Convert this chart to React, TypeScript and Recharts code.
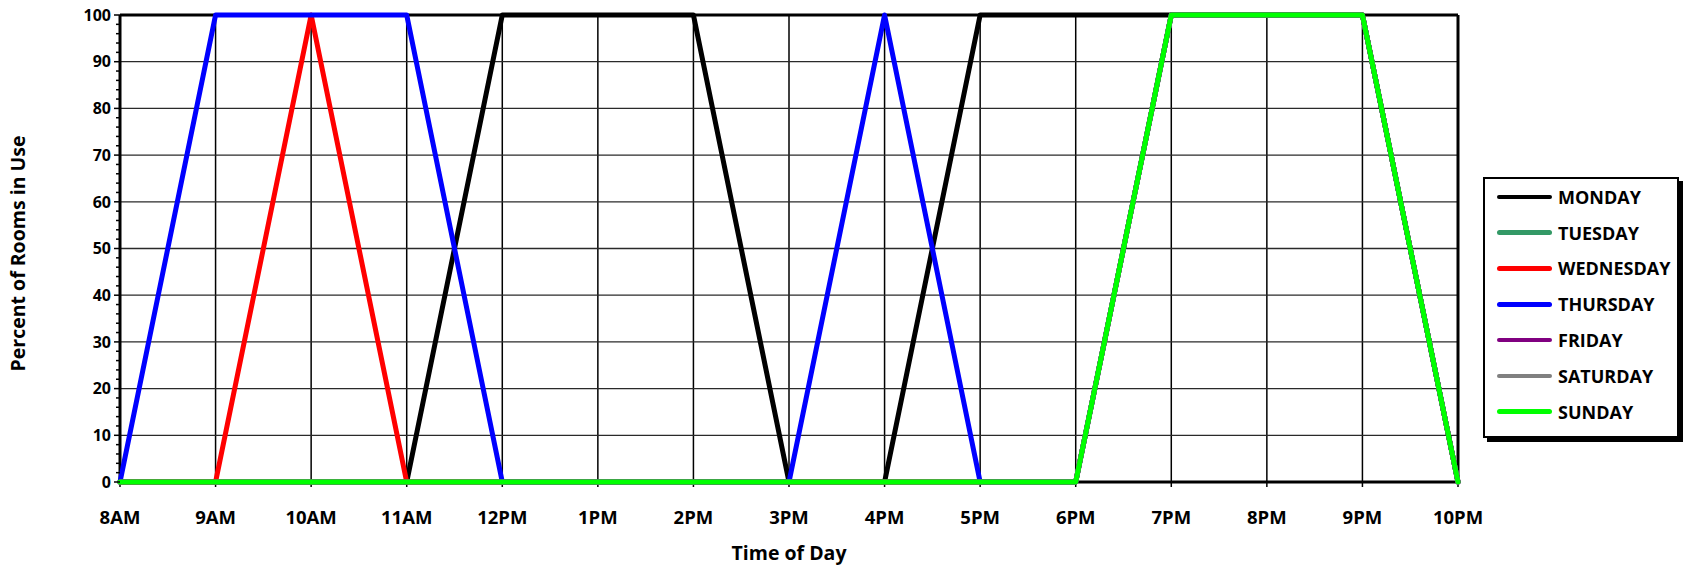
import {
  LineChart,
  Line,
  XAxis,
  YAxis,
  CartesianGrid,
  ReferenceLine,
  Label,
} from "recharts";

/* ── Data ─────────────────────────────────────────────── */

const TIMES = [
  "8AM", "9AM", "10AM", "11AM", "12PM", "1PM", "2PM", "3PM",
  "4PM", "5PM", "6PM", "7PM", "8PM", "9PM", "10PM",
];

const MONDAY = [0, 0, 0, 0, 100, 100, 100, 0, 0, 100, 100, 100, 100, 100, 0];
const TUESDAY = [0, 0, 0, 0, 0, 0, 0, 0, 0, 0, 0, 100, 100, 100, 0];
const WEDNESDAY = [0, 0, 100, 0, 0, 0, 0, 0, 0, 0, 0, 100, 100, 100, 0];
const THURSDAY = [0, 100, 100, 100, 0, 0, 0, 0, 100, 0, 0, 100, 100, 100, 0];
const FRIDAY = [0, 0, 0, 0, 0, 0, 0, 0, 0, 0, 0, 100, 100, 100, 0];
const SATURDAY = [0, 0, 0, 0, 0, 0, 0, 0, 0, 0, 0, 100, 100, 100, 0];
const SUNDAY = [0, 0, 0, 0, 0, 0, 0, 0, 0, 0, 0, 100, 100, 100, 0];

const Y_TICKS = [
  0, 2, 4, 6, 8, 10, 12, 14, 16, 18, 20, 22, 24, 26, 28, 30, 32, 34, 36, 38,
  40, 42, 44, 46, 48, 50, 52, 54, 56, 58, 60, 62, 64, 66, 68, 70, 72, 74, 76,
  78, 80, 82, 84, 86, 88, 90, 92, 94, 96, 98, 100,
];
const Y_GRID = [10, 20, 30, 40, 50, 60, 70, 80, 90];

const SERIES = [
  { key: "monday", name: "MONDAY", color: "#000000", values: MONDAY },
  { key: "tuesday", name: "TUESDAY", color: "#339966", values: TUESDAY },
  { key: "wednesday", name: "WEDNESDAY", color: "#FF0000", values: WEDNESDAY },
  { key: "thursday", name: "THURSDAY", color: "#0000FF", values: THURSDAY },
  { key: "friday", name: "FRIDAY", color: "#800080", values: FRIDAY },
  { key: "saturday", name: "SATURDAY", color: "#808080", values: SATURDAY },
  { key: "sunday", name: "SUNDAY", color: "#00FF00", values: SUNDAY },
];

const data = TIMES.map((time, i) => {
  const row: Record<string, string | number> = { time };
  for (const s of SERIES) row[s.key] = s.values[i];
  return row;
});

/* ── Styles ───────────────────────────────────────────── */

const FONT = "'Open Sans', 'DejaVu Sans', sans-serif";

const TICK_X = {
  fontSize: 18.5,
  fontWeight: 700,
  fill: "#000",
  fontFamily: FONT,
} as const;

const BORDER = { stroke: "#000", strokeWidth: 3 } as const;

/* ── Y tick with minor marks ──────────────────────────── */

function YTick({ x, y, payload }: any) {
  const v = payload.value as number;
  const major = v % 10 === 0;
  return (
    <g>
      <line
        x1={x - (major ? 6 : 4)}
        x2={x}
        y1={y}
        y2={y}
        stroke="#000"
        strokeWidth={1.5}
      />
      {major && (
        <text
          x={x - 9}
          y={y}
          dy="0.36em"
          textAnchor="end"
          fontSize={16}
          fontWeight={700}
          fontFamily={FONT}
          fill="#000"
        >
          {v}
        </text>
      )}
    </g>
  );
}

/* ── Legend ───────────────────────────────────────────── */

function RoomLegend() {
  return (
    <div
      style={{
        position: "absolute",
        left: 1483,
        top: 177,
        width: 196,
        height: 261,
        boxSizing: "border-box",
        border: "2px solid #000",
        boxShadow: "4px 4px 0 #000",
        background: "#fff",
        fontFamily: FONT,
      }}
    >
      {SERIES.map((s) => (
        <div
          key={s.key}
          style={{
            display: "flex",
            alignItems: "center",
            height: 35.8,
            paddingLeft: 12,
          }}
        >
          <div
            style={{
              width: 55,
              height: 4.5,
              borderRadius: 3,
              background: s.color,
            }}
          />
          <span
            style={{
              marginLeft: 6,
              fontSize: 18,
              fontWeight: 700,
              color: "#000",
              lineHeight: 1,
            }}
          >
            {s.name}
          </span>
        </div>
      ))}
    </div>
  );
}

/* ── Chart ────────────────────────────────────────────── */

export default function App() {
  return (
    <div style={{ position: "relative", width: 1685, height: 567, background: "#fff" }}>
      <style>{"body{margin:0}"}</style>
      <LineChart
        width={1685}
        height={567}
        data={data}
        margin={{ top: 14, right: 226, bottom: 0, left: 0 }}
      >
        <CartesianGrid horizontal={false} stroke="#000" strokeWidth={1.5} />
        {Y_GRID.map((v) => (
          <ReferenceLine
            key={v}
            y={v}
            stroke="#2a2a2a"
            strokeWidth={1.3}
            zIndex={-90}
          />
        ))}
        <XAxis
          dataKey="time"
          interval={0}
          height={85}
          tickSize={5}
          tickMargin={24}
          tick={TICK_X}
          axisLine={BORDER}
          tickLine={{ stroke: "#000", strokeWidth: 1.5 }}
        >
          <Label
            value="Time of Day"
            position="insideBottom"
            offset={7}
            style={{ fontSize: 19.5, fontWeight: 700, fill: "#000", fontFamily: FONT }}
          />
        </XAxis>
        <XAxis
          xAxisId="top"
          dataKey="time"
          orientation="top"
          height={1}
          tick={false}
          tickLine={false}
          axisLine={BORDER}
        />
        <YAxis
          width={120}
          domain={[0, 100]}
          ticks={Y_TICKS}
          interval={0}
          tickSize={0}
          tickMargin={0}
          tickLine={false}
          tick={<YTick />}
          axisLine={BORDER}
        >
          <Label
            value="Percent of Rooms in Use"
            angle={-90}
            position="insideLeft"
            offset={18}
            dy={5}
            style={{
              textAnchor: "middle",
              fontSize: 19.5,
              fontWeight: 700,
              fill: "#000",
              fontFamily: FONT,
            }}
          />
        </YAxis>
        <YAxis
          yAxisId="right"
          orientation="right"
          width={1}
          domain={[0, 100]}
          tick={false}
          tickLine={false}
          axisLine={BORDER}
        />
        {SERIES.map((s) => (
          <Line
            key={s.key}
            type="linear"
            dataKey={s.key}
            name={s.name}
            stroke={s.color}
            strokeWidth={5}
            strokeLinejoin="round"
            strokeLinecap="round"
            dot={false}
            activeDot={false}
            isAnimationActive={false}
            zIndex={600}
          />
        ))}
      </LineChart>
      <RoomLegend />
    </div>
  );
}
